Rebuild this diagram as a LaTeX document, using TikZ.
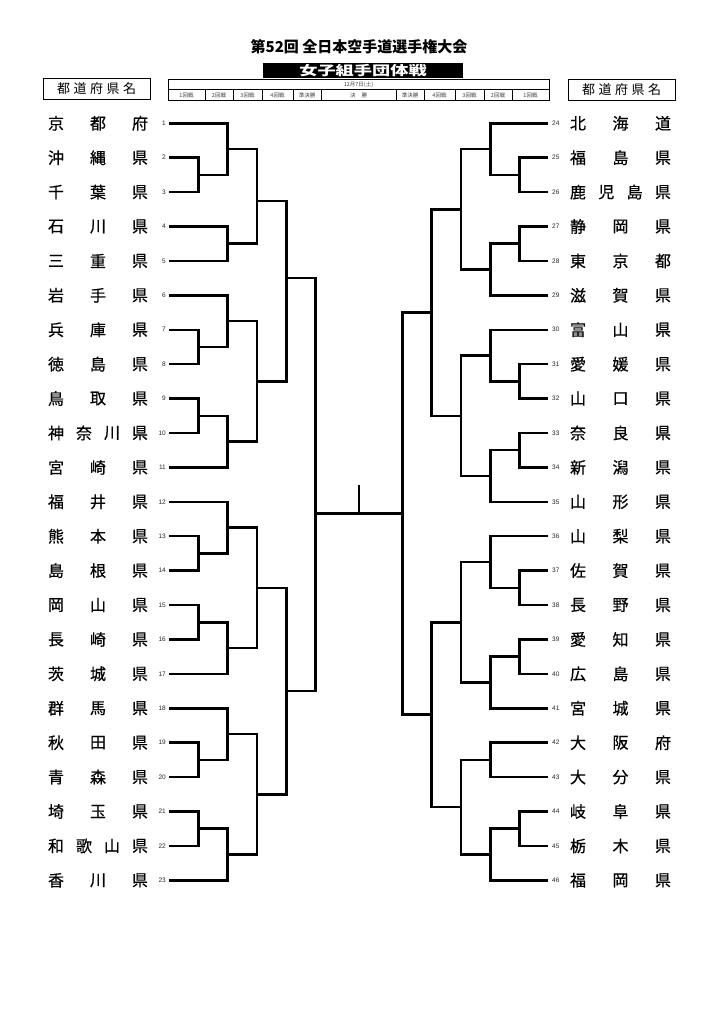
\documentclass[tikz,border=0pt]{standalone}
\usepackage{fontspec}
\setmainfont{Liberation Sans}
\newfontfamily\jp{Noto Sans CJK JP}
\newfontfamily\jpm{Noto Sans CJK JP}[FakeBold=0.5]
\usetikzlibrary{calc}
\newcommand\jn[4]{\path let \p1=(#3), \p2=(#4) in coordinate (#1) at (#2pt,{(\y1+\y2)/2});
  \draw[br] (#3) -| (#1) |- (#4);}
\newcommand\jnat[5]{\coordinate (#1) at (#2,#3); \draw[br] (#4) -| (#1) |- (#5);}
\newcommand\prefname[5]{% id, xleft, xright, y, list macro
  \foreach \c [count=\k] in #5{\xdef\ncnt{\k}}%
  \foreach \c [count=\k from 0] in #5{%
    \node[nm] (t#1-\k) at ({#2+(#3-#2)*\k/(\ncnt-1)},#4) {\c};}}
\begin{document}
\begin{tikzpicture}[x=1pt,y=-1pt,
  br/.style={line width=2.5pt},
  nm/.style={font=\jpm\fontsize{16}{16}\selectfont, inner sep=0pt},
  num/.style={font=\fontsize{6.5}{7}\selectfont, inner sep=0pt, text=black!85},
  hdr/.style={font=\jp\fontsize{5.5}{5.5}\selectfont, inner sep=0pt, text=black!75},
  hbox/.style={draw, line width=0.8pt, minimum width=107pt, minimum height=21pt, inner sep=0pt,
    font=\jp\fontsize{13}{13}\selectfont},
  thin/.style={line width=0.6pt}]
\useasboundingbox (0,0) rectangle (724,1024);
\fill[white] (0,0) rectangle (724,1024);

% title
\node[font=\jp\bfseries\fontsize{15}{15}\selectfont, inner sep=0pt] (title) at (359,47) {第52回 全日本空手道選手権大会};
\node[fill=black, minimum width=200pt, minimum height=14.5pt, inner sep=0pt] (subbox) at (363,70.3) {};
\node[font=\jp\bfseries\fontsize{13}{13}\selectfont, text=white, inner sep=0pt] (sub) at (363,70.3) {\scalebox{1.4}[1]{女子組手団体戦}};

% header boxes
\node[hbox] (hl) at (96.7,89) {都\hspace{3.5pt}道\hspace{3.5pt}府\hspace{3.5pt}県\hspace{3.5pt}名};
\node[hbox] (hr) at (621.7,90) {都\hspace{3.5pt}道\hspace{3.5pt}府\hspace{3.5pt}県\hspace{3.5pt}名};

% round table
\draw[thin] (168,79) rectangle (549,100.5);
\draw[thin] (168,89.5) -- (549,89.5);
\foreach \xx in {205,233,262,293,321,396,424,455,484,512}
  \draw[thin] (\xx,89.5) -- (\xx,100.5);
\node[hdr] (date) at (358.5,84.3) {12月7日(土)};
\foreach \xa/\xb/\lab [count=\q] in {168/205/1回戦,205/233/2回戦,233/262/3回戦,262/293/4回戦,293/321/準決勝,321/396/決\hspace{6pt}勝,396/424/準決勝,424/455/4回戦,455/484/3回戦,484/512/2回戦,512/549/1回戦}
  \node[hdr] (rd\q) at ({(\xa+\xb)/2},95.2) {\lab};

% left teams
\foreach \i/\n in {1/{京,都,府},2/{沖,縄,県},3/{千,葉,県},4/{石,川,県},5/{三,重,県},6/{岩,手,県},7/{兵,庫,県},8/{徳,島,県},9/{鳥,取,県},10/{神,奈,川,県},11/{宮,崎,県},12/{福,井,県},13/{熊,本,県},14/{島,根,県},15/{岡,山,県},16/{長,崎,県},17/{茨,城,県},18/{群,馬,県},19/{秋,田,県},20/{青,森,県},21/{埼,玉,県},22/{和,歌,山,県},23/{香,川,県}}{
  \pgfmathsetmacro\yy{123.3+(\i-1)*34.41}
  \prefname{\i}{56}{140}{\yy}{\n}
  \node[num, anchor=east] (n\i) at (166,\yy) {\i};
  \coordinate (L\i) at (169,\yy);
}
% right teams
\foreach \i/\n in {24/{北,海,道},25/{福,島,県},26/{鹿,児,島,県},27/{静,岡,県},28/{東,京,都},29/{滋,賀,県},30/{富,山,県},31/{愛,媛,県},32/{山,口,県},33/{奈,良,県},34/{新,潟,県},35/{山,形,県},36/{山,梨,県},37/{佐,賀,県},38/{長,野,県},39/{愛,知,県},40/{広,島,県},41/{宮,城,県},42/{大,阪,府},43/{大,分,県},44/{岐,阜,県},45/{栃,木,県},46/{福,岡,県}}{
  \pgfmathsetmacro\yy{123.3+(\i-24)*34.41}
  \prefname{\i}{578}{663}{\yy}{\n}
  \node[num, anchor=west] (n\i) at (552,\yy) {\i};
  \coordinate (R\i) at (547.5,\yy);
}

% left bracket
\jn{xa}{198.5}{L2}{L3}
\jn{xb}{227.5}{L1}{xa}
\jn{xc}{227.5}{L4}{L5}
\jnat{xd}{257}{201}{xb}{xc}
\jn{xe}{198.5}{L7}{L8}
\jn{xf}{227.5}{L6}{xe}
\jn{xg}{198.5}{L9}{L10}
\jn{xh}{227.5}{xg}{L11}
\jn{xi}{257}{xf}{xh}
\jnat{xj}{286.5}{278}{xd}{xi}
\jn{xk}{198.5}{L13}{L14}
\jn{xl}{227.5}{L12}{xk}
\jn{xm}{198.5}{L15}{L16}
\jn{xn}{227.5}{xm}{L17}
\jn{xo}{257}{xl}{xn}
\jn{xp}{198.5}{L19}{L20}
\jn{xq}{227.5}{L18}{xp}
\jn{xr}{198.5}{L21}{L22}
\jn{xs}{227.5}{xr}{L23}
\jn{xt}{257}{xq}{xs}
\jn{xu}{286.5}{xo}{xt}

% right bracket
\jn{ra}{519.3}{R25}{R26}
\jn{rb}{490.7}{R24}{ra}
\jn{rc}{519.3}{R27}{R28}
\jn{rd}{490.7}{rc}{R29}
\jn{re}{461}{rb}{rd}
\jn{rf}{519.3}{R31}{R32}
\jn{rg}{490.7}{R30}{rf}
\jn{rh}{519.3}{R33}{R34}
\jn{ri}{490.7}{rh}{R35}
\jn{rj}{461}{rg}{ri}
\jn{rk}{431.7}{re}{rj}
\jn{rl}{519.3}{R37}{R38}
\jn{rm}{490.7}{R36}{rl}
\jn{rn}{519.3}{R39}{R40}
\jn{ro}{490.7}{rn}{R41}
\jn{rp}{461}{rm}{ro}
\jn{rq}{490.7}{R42}{R43}
\jn{rr}{519.3}{R44}{R45}
\jn{rs}{490.7}{rr}{R46}
\jn{rt}{461}{rq}{rs}
\jn{ru}{431.7}{rp}{rt}
\jn{RS}{402.7}{rk}{ru}

% final
\coordinate (c5) at (315.5,0);
\coordinate (LS) at (RS -| c5);
\draw[br] (xj) -| (LS) |- (xu);
\draw[br] (LS) -- (RS);
\coordinate (W) at (359,485);
\draw[br] (W) -- (W |- LS);
\end{tikzpicture}
\end{document}
